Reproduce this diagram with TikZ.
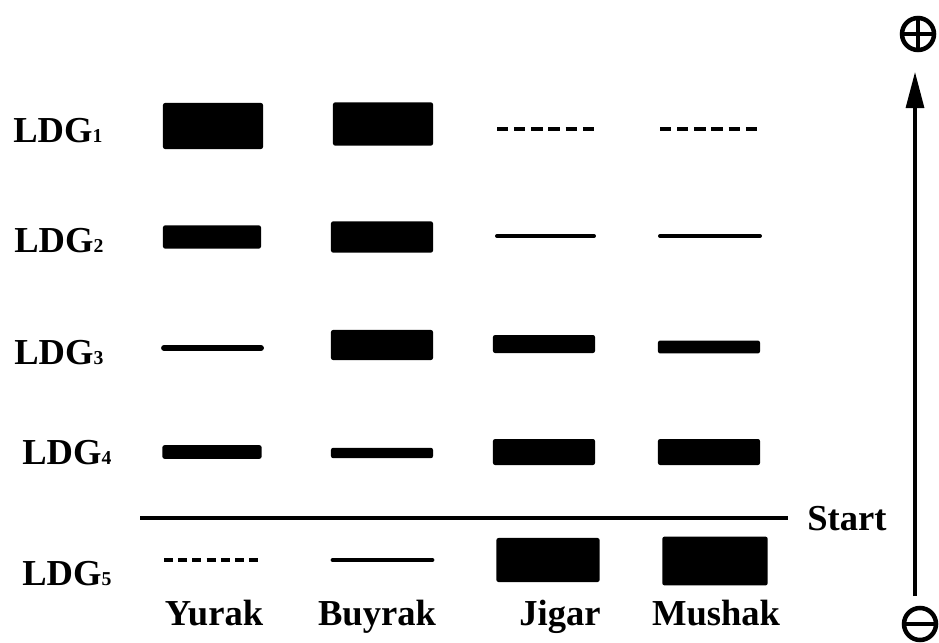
\documentclass[tikz,border=0pt]{standalone}
\usepackage{fontspec}
\setmainfont{Liberation Serif}
\usetikzlibrary{positioning,arrows.meta}

\begin{document}
\begin{tikzpicture}[x=0.025cm,y=-0.025cm,
      band/.style={fill=black,rounded corners=1.5pt,inner sep=0pt,minimum width=2.5cm},
      trace/.style={line width=2.2pt,line cap=round},
      faint/.style={line width=3pt,dash pattern=on 8pt off 4.2pt},
      lbl/.style={font=\bfseries\fontsize{26}{30}\selectfont,inner sep=0pt},
      sign/.style={circle,draw,line width=3.2pt,minimum size=0.8cm,inner sep=0pt},
      arrow/.style={-{Triangle[length=0.9cm,width=0.45cm]},line width=2.2pt}]
    \useasboundingbox (0,0) rectangle (939,643);
    \newcommand{\ldg}[1]{LDG{\fontsize{14}{16}\selectfont #1}}
    % row labels
    \node[lbl,anchor=base west] (r1) at (13,143) {\ldg{1}};
    \node[lbl,anchor=base west] (r2) at (14,252) {\ldg{2}};
    \node[lbl,anchor=base west] (r3) at (14,364) {\ldg{3}};
    \node[lbl,anchor=base west] (r4) at (22,464) {\ldg{4}};
    \node[lbl,anchor=base west] (r5) at (22,585) {\ldg{5}};
    % LDG1
    \node[band,minimum height=1.15cm] (y1) at (213,126) {};
    \node[band,minimum height=1.08cm] (b1) at (383,124) {};
    \draw[faint] (497,129) -- (594,129);
    \draw[faint] (660,129) -- (757,129);
    % LDG2
    \node[band,minimum width=2.45cm,minimum height=0.58cm] (y2) at (212,237) {};
    \node[band,minimum width=2.55cm,minimum height=0.78cm] (b2) at (382,237) {};
    \draw[trace,line width=2.8pt] (497,236) -- (594,236);
    \draw[trace,line width=2.8pt] (660,236) -- (760,236);
    % LDG3
    \draw[trace,line width=4.2pt] (164,348) -- (261,348);
    \node[band,minimum width=2.55cm,minimum height=0.75cm] (b3) at (382,345) {};
    \node[band,minimum width=2.55cm,minimum height=0.45cm] (j3) at (544,344) {};
    \node[band,minimum width=2.55cm,minimum height=0.32cm] (m3) at (709,347) {};
    % LDG4
    \node[band,minimum width=2.48cm,minimum height=0.34cm] (y4) at (212,452) {};
    \node[band,minimum width=2.55cm,minimum height=0.26cm] (b4) at (382,453) {};
    \node[band,minimum width=2.55cm,minimum height=0.65cm] (j4) at (544,452) {};
    \node[band,minimum width=2.55cm,minimum height=0.65cm] (m4) at (709,452) {};
    % start line
    \coordinate (s0) at (140,518);
    \coordinate (s1) at (788,518);
    \draw[line width=2.2pt] (s0) -- (s1);
    \node[lbl,anchor=base west] (start) at (807,530) {Start};
    % LDG5
    \draw[faint,dash pattern=on 6.4pt off 3.7pt] (164,560) -- (258,560);
    \draw[trace,line width=3.4pt] (333,560) -- (432,560);
    \node[band,minimum width=2.58cm,minimum height=1.1cm] (j5) at (548,560) {};
    \node[band,minimum width=2.63cm,minimum height=1.22cm] (m5) at (715,561) {};
    % column labels
    \node[lbl,anchor=base] (yurak) at (214,625) {Yurak};
    \node[lbl,anchor=base] (buyrak) at (377,625) {Buyrak};
    \node[lbl,anchor=base] (jigar) at (560,625) {Jigar};
    \node[lbl,anchor=base] (mushak) at (716,625) {Mushak};
    % direction arrow
    \coordinate (ax0) at (915,596);
    \coordinate (ax1) at (915,72);
    \draw[arrow] (ax0) -- (ax1);
    \node[sign] (plus) at (918,34) {};
    \draw[line width=2.2pt] (plus.west) -- (plus.east) (plus.north) -- (plus.south);
    \node[sign] (minus) at (920,624) {};
    \draw[line width=3pt] (minus.west) -- (minus.east);
  \end{tikzpicture}
\end{document}
